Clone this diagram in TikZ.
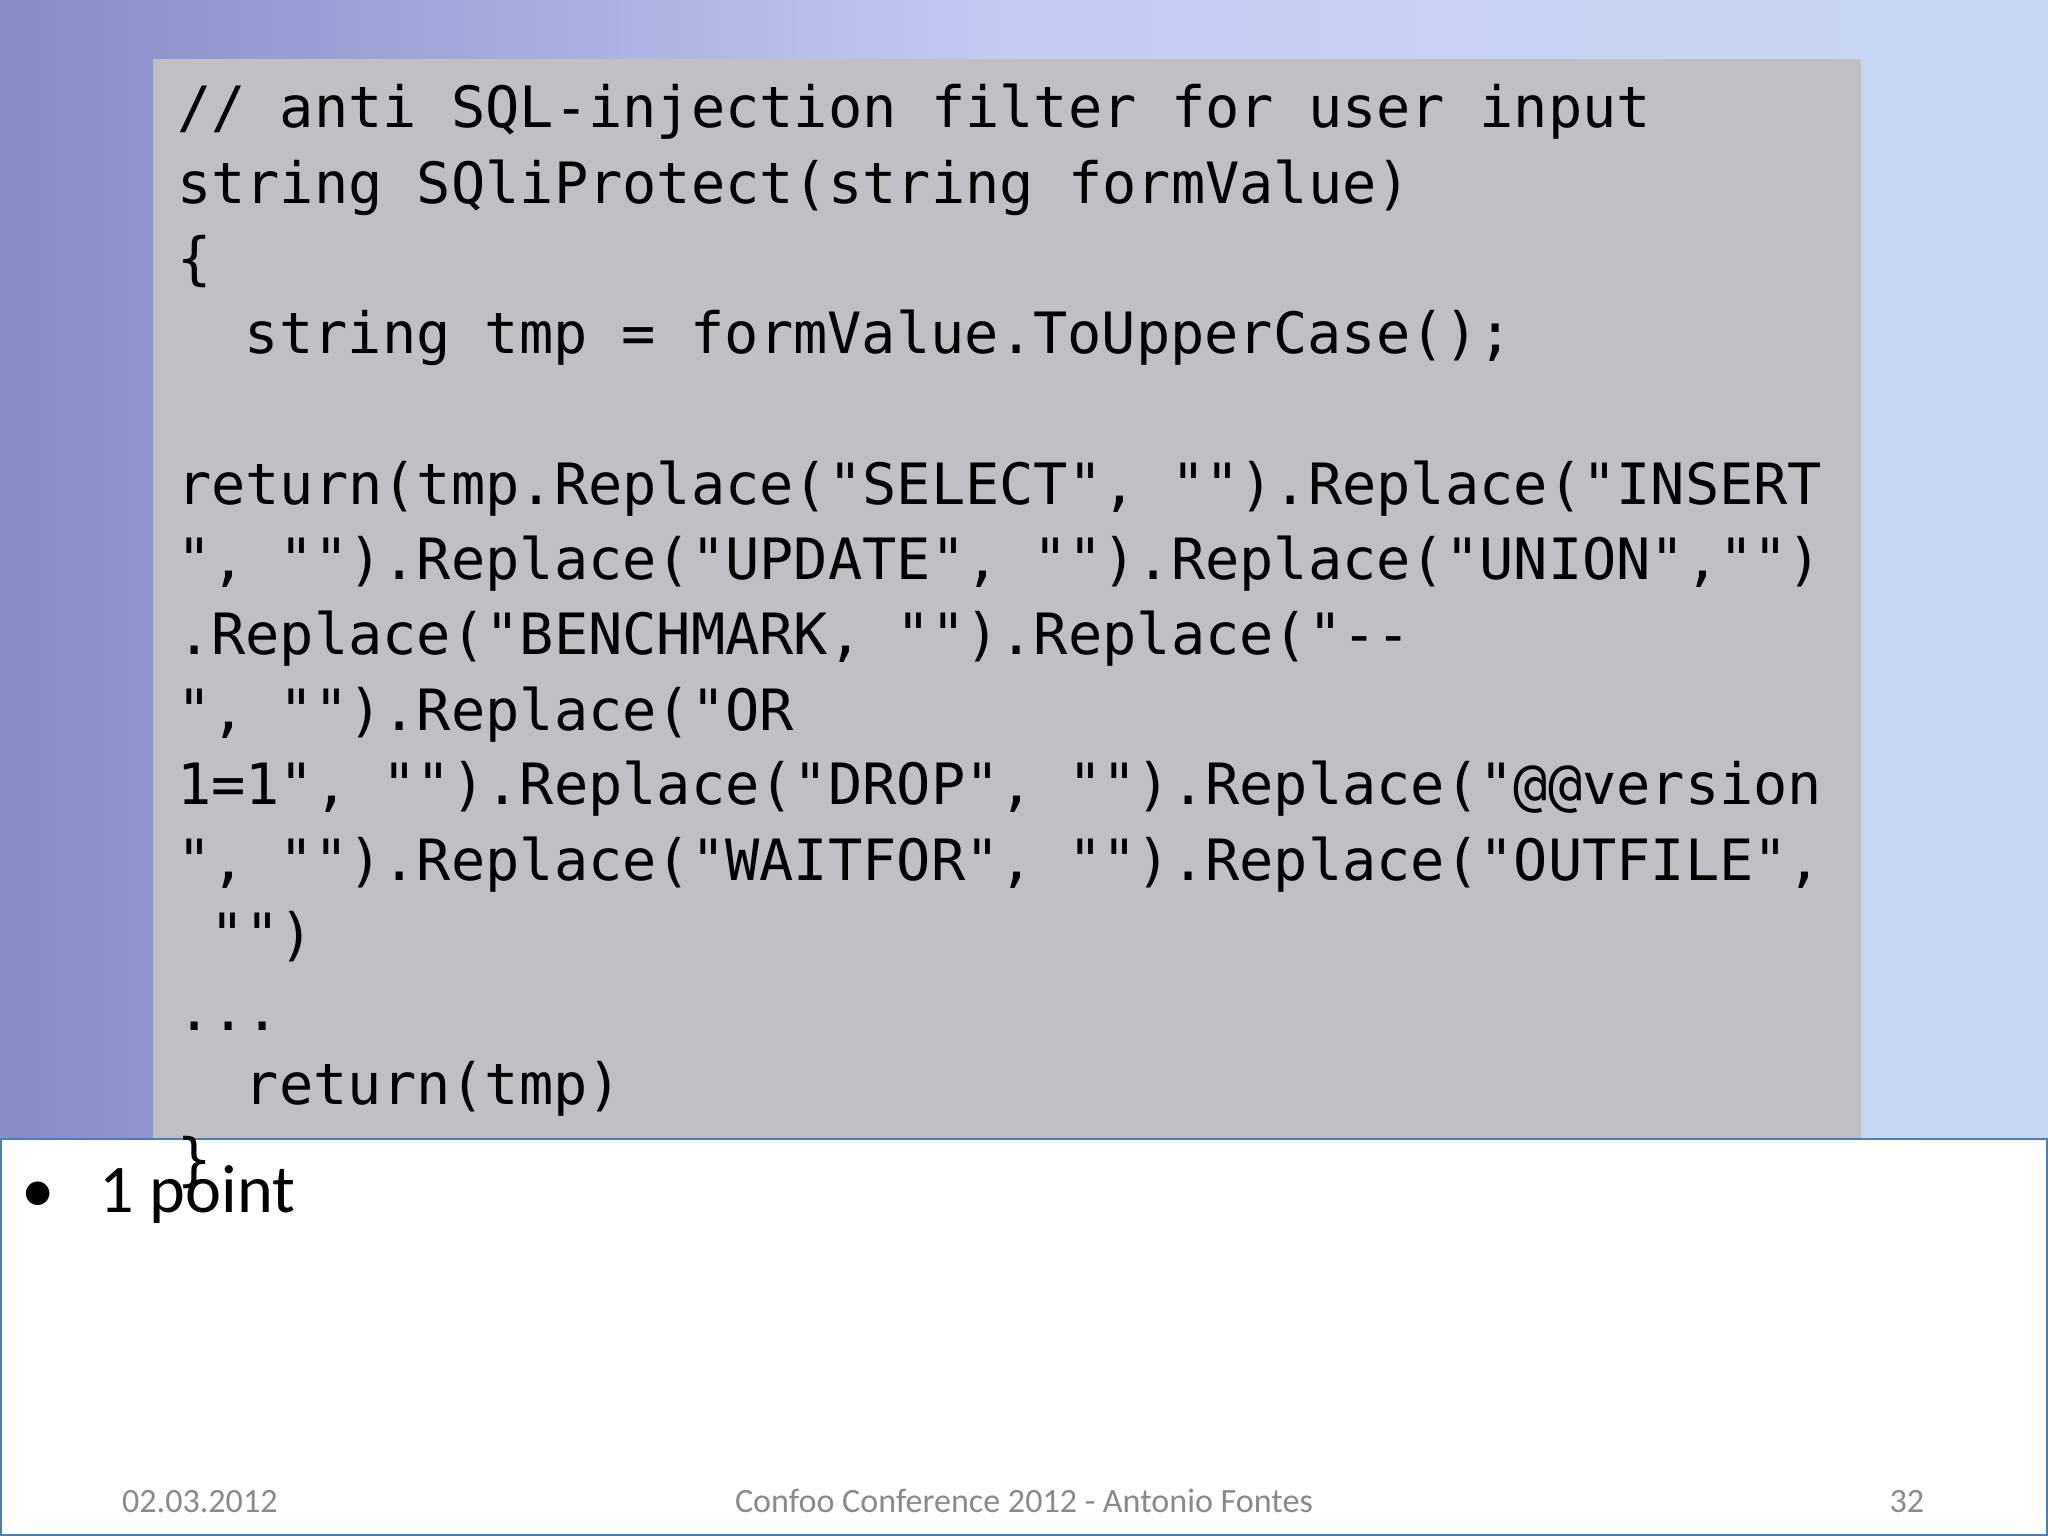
\documentclass[tikz,border=0pt]{standalone}
\usepackage{fontspec}
\setmainfont{Carlito}
\setmonofont{DejaVu Sans Mono}
\definecolor{bgL}{HTML}{868BC6}
\definecolor{bgM}{HTML}{C4CCF4}
\definecolor{bgR}{HTML}{C8D8F2}
\definecolor{codebg}{HTML}{C0BFC4}
\definecolor{frame}{HTML}{4A7EBB}
\definecolor{foot}{HTML}{8A8A8A}
\begin{document}
\begin{tikzpicture}[x=0.013061cm,y=-0.013061cm,
  codeline/.style={anchor=base west,inner sep=0pt,font=\ttfamily\fontsize{16.2}{19}\selectfont,text=black},
  footer/.style={anchor=base,inner sep=0pt,font=\fontsize{9.7}{11}\selectfont,text=foot}]
\useasboundingbox (0,0) rectangle (1568,1176);
\shade[left color=bgL,right color=bgR,middle color=bgM] (0,0) rectangle (1568,872);
\fill[codebg] (117,45) rectangle (1425,872);
\draw[frame,fill=white,line width=0.8pt] (0.5,872) rectangle (1567.5,1175.5);
\node[codeline] (l1) at (135,98) {// anti SQL-injection filter for user input};
\node[codeline] (l2) at (135,156) {string SQliProtect(string formValue)};
\node[codeline] (l3) at (135,213) {\{};
\node[codeline] (l4) at (187,271) {string tmp = formValue.ToUpperCase();};
\node[codeline] (l5) at (135,386) {return(tmp.Replace("SELECT", "").Replace("INSERT};
\node[codeline] (l6) at (135,444) {", "").Replace("UPDATE", "").Replace("UNION","")};
\node[codeline] (l7) at (135,501) {.Replace("BENCHMARK, "").Replace("-{}-};
\node[codeline] (l8) at (135,559) {", "").Replace("OR};
\node[codeline] (l9) at (135,616) {1=1", "").Replace("DROP", "").Replace("@@version};
\node[codeline] (l10) at (135,674) {", "").Replace("WAITFOR", "").Replace("OUTFILE",};
\node[codeline] (l11) at (161,731) {"")};
\node[codeline] (l12) at (135,789) {...};
\node[codeline] (l13) at (187,846) {return(tmp)};
\node[codeline] (l14) at (135,903) {\}};
\node[anchor=base west,inner sep=0pt,font=\fontsize{19}{22}\selectfont] (b) at (16,928) {•};
\node[anchor=base west,inner sep=0pt,font=\fontsize{19.4}{22}\selectfont] (pt) at (76,928) {1 point};
\node[footer] (f1) at (153,1158) {02.03.2012};
\node[footer] (f2) at (784,1158) {Confoo Conference 2012 - Antonio Fontes};
\node[footer] (f3) at (1460,1158) {32};
\end{tikzpicture}
\end{document}
